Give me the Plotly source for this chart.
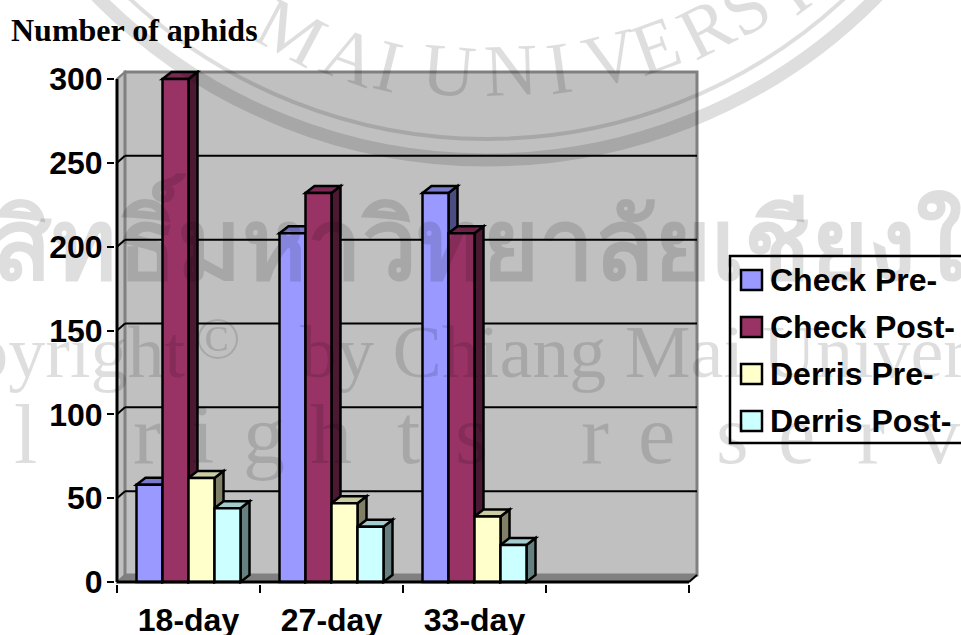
import plotly.graph_objects as go

categories = ["18-day", "27-day", "33-day"]
series_names = ["Check Pre-", "Check Post-", "Derris Pre-", "Derris Post-"]
check_pre = [58, 208, 232]
check_post = [300, 232, 208]
derris_pre = [62, 47, 39]
derris_post = [44, 33, 22]
y_ticks = [0, 50, 100, 150, 200, 250, 300]
colors = ["#9999FF", "#993366", "#FFFFCC", "#CCFFFF"]
top_colors = ["#7A7ACC", "#7A2952", "#CCCCA3", "#A3CCCC"]
side_colors = ["#4C4C80", "#4C1933", "#808066", "#668080"]
all_series = [check_pre, check_post, derris_pre, derris_post]

W, H = 961, 635
PL, PR, PT, PB = 115, 699, 70, 584
X0, XS = 117, 143.0
Y0, YS = 582, 503 / 300.0
WM = "rgba(0,0,0,0.13)"


def px(x):
    return (x - PL) / (PR - PL)


def py(y):
    return (PB - y) / (PB - PT)


DX, DY = 8 / XS, 7 / YS
BDX, BDY = 9 / XS, 7 / YS
N_SLOTS = 4
BAR_W = 26 / XS
shapes = []


def poly(points, fill, line="black", width=2.5, layer="below"):
    path = "M" + " L".join(f"{a:.4f},{b:.4f}" for a, b in points) + " Z"
    shapes.append(dict(type="path", xref="x", yref="y", path=path, fillcolor=fill,
                       line=dict(color=line, width=width), layer=layer))


def seg(x0, y0, x1, y1, color="black", width=2, layer="below"):
    shapes.append(dict(type="line", xref="x", yref="y", x0=x0, y0=y0, x1=x1, y1=y1,
                       line=dict(color=color, width=width), layer=layer))


# walls and floor
poly([(0, 0), (DX, DY), (DX, 300 + DY), (0, 300)], "#C0C0C0", "#808080", 2)
poly([(DX, DY), (N_SLOTS + DX, DY), (N_SLOTS + DX, 300 + DY), (DX, 300 + DY)], "#C0C0C0", "#808080", 3)
poly([(0, 0), (N_SLOTS, 0), (N_SLOTS + DX, DY), (DX, DY)], "#808080", "#808080", 1)
for v in y_ticks[1:-1]:
    seg(DX, v + DY, N_SLOTS + DX, v + DY)
for v in y_ticks[1:]:
    seg(0, v, DX, v + DY, "#808080" if v == 300 else "black")

# depth faces of the bars
group_w = BAR_W * len(all_series)
for i in range(len(categories)):
    for j, vals in enumerate(all_series):
        v = vals[i]
        l = i + 0.5 - group_w / 2 + j * BAR_W
        r = l + BAR_W
        poly([(r, 0), (r + BDX, BDY), (r + BDX, v + BDY), (r, v)], side_colors[j])
        poly([(l, v), (l + BDX, v + BDY), (r + BDX, v + BDY), (r, v)], top_colors[j])

# front axis lines
seg(0, 0, N_SLOTS, 0, width=3, layer="above")
seg(0, 0, 0, 300, width=3, layer="above")
seg(N_SLOTS, 0, N_SLOTS + DX, DY, "black", 2, "above")

fig = go.Figure()
positions = [i + 0.5 for i in range(len(categories))]
for name, vals, c in zip(series_names, all_series, colors):
    fig.add_bar(x=positions, y=vals, name=name, marker=dict(color=c, line=dict(color="black", width=2.5)),
                showlegend=False)

annotations = []


def txt(text, x, y, size, family="Liberation Serif", color="black", anchor="center", angle=0, bold=False):
    annotations.append(dict(text=f"<b>{text}</b>" if bold else text, xref="paper", yref="paper",
                            x=px(x), y=py(y), xanchor=anchor, yanchor="middle", showarrow=False,
                            textangle=angle, font=dict(family=family, size=size, color=color)))


# title
txt("Number of aphids", 9, 30, 32, bold=True, anchor="left")

# legend
shapes.append(dict(type="rect", xref="paper", yref="paper", x0=px(730), x1=px(975), y0=py(256), y1=py(443),
                   fillcolor="rgba(0,0,0,0)", line=dict(color="black", width=2.5), layer="above"))
for k, (name, c) in enumerate(zip(series_names, colors)):
    yc = 280 + k * 47
    shapes.append(dict(type="rect", xref="paper", yref="paper", x0=px(741), x1=px(762), y0=py(yc - 10),
                       y1=py(yc + 10), fillcolor=c, line=dict(color="black", width=2.5), layer="above"))
    txt(name, 768, yc, 32, "Liberation Sans", anchor="left", bold=True)

# watermark
for cy, r, w in [(-387, 547, 13), (-386, 525, 4)]:
    cx = 487
    shapes.append(dict(type="circle", xref="paper", yref="paper", x0=px(cx - r), x1=px(cx + r),
                       y0=py(cy - r), y1=py(cy + r), fillcolor="rgba(0,0,0,0)",
                       line=dict(color=WM, width=w), layer="above"))
for ch, x, y, a in [("M", 291, 32, 28), ("A", 350, 56, 20), ("I", 388, 66, 14), ("U", 448, 70, 5),
                    ("N", 510, 70, -2), ("I", 559, 68, -8), ("V", 610, 58, -14), ("E", 655, 46, -20),
                    ("R", 706, 28, -27), ("S", 745, 8, -32), ("I", 790, -10, -36)]:
    txt(ch, x, y, 74, color=WM, angle=a)
txt("ลิขสิทธิ์มหาวิทยาลัยเชียงใหม่", -137, 240, 98, "Noto Sans, DejaVu Sans, sans-serif", WM, anchor="left", bold=True)
txt("Copyright", 188, 352, 74, color=WM, anchor="right")
txt("©", 218, 338, 60, color=WM)
txt("by Chiang Mai University", 298, 352, 74, color=WM, anchor="left")
for ch, x in [("l", 25), ("r", 147), ("i", 202), ("g", 264), ("h", 331), ("t", 408), ("s", 472),
              ("r", 595), ("e", 656), ("s", 733), ("e", 797), ("r", 871), ("v", 939)]:
    txt(ch, x, 435, 84, color=WM)

fig.update_layout(
    width=W, height=H, autosize=False, paper_bgcolor="white", plot_bgcolor="rgba(0,0,0,0)",
    margin=dict(l=PL, r=W - PR, t=PT, b=H - PB, pad=0, autoexpand=False),
    barmode="group", bargap=1 - group_w, bargroupgap=0, showlegend=False,
    shapes=shapes, annotations=annotations,
    font=dict(family="Liberation Sans", color="black"),
    xaxis=dict(range=[(PL - X0) / XS, (PR - X0) / XS], tickmode="array", tickvals=positions,
               ticktext=[f"<b>{c}</b>" for c in categories],
               ticks="", showgrid=False, zeroline=False, showline=False,
               tickfont=dict(family="Liberation Sans", size=32, color="black"),
               ticklabelstandoff=14,
               minor=dict(tickmode="array", tickvals=[0, 1, 2, 3, 4], ticks="outside", ticklen=8, tickwidth=2,
                          tickcolor="black", showgrid=False)),
    yaxis=dict(range=[(Y0 - PB) / YS, (Y0 - PT) / YS], tickmode="array", tickvals=y_ticks,
               ticktext=[f"<b>{v}</b>" for v in y_ticks],
               ticks="outside", ticklen=7, tickwidth=2, tickcolor="black", showgrid=False, zeroline=False,
               showline=False, ticklabelstandoff=-2,
               tickfont=dict(family="Liberation Sans", size=32, color="black")),
)
fig.write_html("out.html", config=dict(displayModeBar=False),
               post_script="document.body.style.margin='0';document.body.style.overflow='hidden';")
